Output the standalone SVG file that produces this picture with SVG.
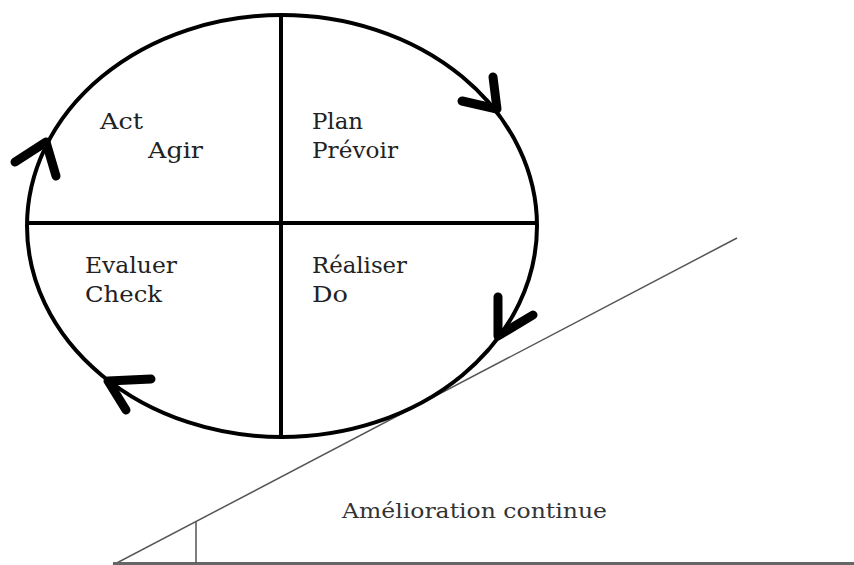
<svg xmlns="http://www.w3.org/2000/svg" width="854" height="565" viewBox="0 0 854 565">
<style>
.t{font-family:"DejaVu Serif","Liberation Serif",serif;font-size:23px;fill:#222}
.c{fill:none;stroke:#000;stroke-width:4}
.h{fill:none;stroke:#000;stroke-width:9;stroke-linecap:round;stroke-linejoin:round}
.s{stroke:#555;stroke-width:1.5;fill:none}
</style>
<rect width="854" height="565" fill="#fff"/>
<g id="slope">
<line class="s" x1="113" y1="565" x2="737" y2="238"/>
<line x1="113" y1="563.5" x2="854" y2="563.5" stroke="#666" stroke-width="3"/>
<line class="s" x1="196" y1="522" x2="196" y2="563"/>
<text x="342" y="518" class="t" style="font-size:20px;fill:#333" textLength="265" lengthAdjust="spacingAndGlyphs">Amélioration continue</text>
</g>
<g id="cycle">
<ellipse class="c" cx="282" cy="226" rx="255" ry="211"/>
<line class="c" x1="281" y1="15" x2="281" y2="437"/>
<line class="c" x1="27" y1="223" x2="537" y2="223"/>
</g>
<g id="arrows">
<path class="h" d="M462,101 L497,109 L493,77"/>
<path class="h" d="M498,297 L498,336 L533,315"/>
<path class="h" d="M151,379 L108,381 L126,410"/>
<path class="h" d="M15,162 L46,142 L56,176"/>
</g>
<g id="act"><text class="t" x="100" y="129" textLength="43" lengthAdjust="spacingAndGlyphs">Act</text><text class="t" x="148" y="158" textLength="55" lengthAdjust="spacingAndGlyphs">Agir</text></g>
<g id="plan"><text class="t" x="312" y="129" textLength="51" lengthAdjust="spacingAndGlyphs">Plan</text><text class="t" x="312" y="158" textLength="86" lengthAdjust="spacingAndGlyphs">Prévoir</text></g>
<g id="check"><text class="t" x="85" y="273" textLength="92" lengthAdjust="spacingAndGlyphs">Evaluer</text><text class="t" x="85" y="302" textLength="77" lengthAdjust="spacingAndGlyphs">Check</text></g>
<g id="do"><text class="t" x="312" y="273" textLength="95" lengthAdjust="spacingAndGlyphs">Réaliser</text><text class="t" x="312" y="302" textLength="36" lengthAdjust="spacingAndGlyphs">Do</text></g>
</svg>
